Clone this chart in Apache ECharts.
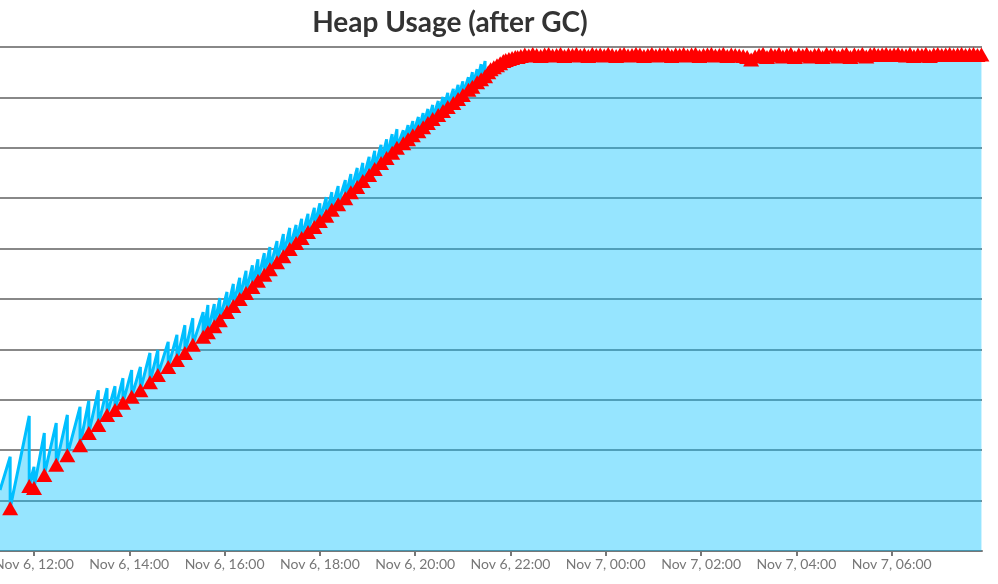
<!DOCTYPE html>
<html>
<head>
<meta charset="utf-8">
<title>Heap Usage (after GC)</title>
<script src="https://cdn.jsdelivr.net/npm/echarts@6/dist/echarts.min.js"></script>
<style>
  html, body { margin: 0; padding: 0; background: #fff; }
  #chart { width: 998px; height: 584px; }
</style>
</head>
<body>
<div id="chart"></div>
<script>
// time in minutes after Nov 6, 11:00 ; heap in MB
const axisStartMinute = 17.2
const axisEndMinute = 1253.7
const tickMinutes = [60, 180, 300, 420, 540, 660, 780, 900, 1020, 1140]

// first sample at the left edge
const firstSample = [17.2, 121]

// one entry per GC run
const gcMinute = [
  30, 54, 60, 73, 88, 102, 118, 129, 141, 152, 162, 172, 183, 194, 206, 216, 229, 240, 250, 260, 273, 279,
  287, 294, 303, 311, 319, 327, 335, 342, 350, 357, 366, 374, 382,
  390, 397, 405, 413, 420, 428, 435, 443, 452, 459, 467, 474, 482, 489, 497, 504, 511, 517,
  525, 531, 537, 544, 550, 556, 562, 569, 575, 581, 588, 594, 600, 607, 612, 618, 623, 628,
  632, 635, 639, 643, 647, 651, 654, 658, 662, 666, 669, 673,
  678, 683, 688, 693, 698, 703, 708, 713, 718, 723, 728, 733, 738, 743, 748, 753, 758, 763, 768, 773,
  778, 783, 788, 793, 798, 803, 808, 813, 818, 823, 828, 833, 838, 843, 848, 853, 858, 863, 868, 873,
  878, 883, 888, 893, 898, 903, 908, 913, 918, 923, 928, 933, 938, 943, 948,
  953, 958, 963, 968,
  973, 978, 983, 988, 993, 998, 1003, 1008, 1013, 1018, 1023, 1028, 1033, 1038, 1043, 1048, 1053, 1058,
  1063, 1068, 1073, 1078, 1083, 1088, 1093, 1098, 1103, 1108,
  1113, 1118, 1123, 1128, 1133, 1138, 1143, 1148, 1153,
  1158, 1163, 1168, 1173, 1178, 1183, 1188, 1193,
  1198, 1203, 1208, 1213, 1218, 1223, 1228, 1233, 1238, 1243, 1248, 1253
]

// heap right after each GC (red triangles)
const heapAfterGc = [
  85, 129, 125, 151, 171, 190, 210, 234, 250, 270, 280, 294, 306, 319, 335, 349, 365, 379, 393, 409, 425, 434,
  446, 458, 474, 486, 500, 512, 524, 536, 548, 559, 573, 585, 599,
  611, 621, 633, 643, 655, 665, 677, 688, 700, 712, 722, 734, 746, 758, 770, 780, 790, 800,
  809, 817, 825, 833, 841, 849, 857, 865, 873, 881, 889, 897, 905, 915, 921, 930, 936, 942,
  950, 956, 960, 964, 968, 972, 974, 976, 978, 980, 980, 982,
  985, 983, 986, 984, 982, 985, 986, 983, 984, 986, 982, 985, 984, 986, 983, 985, 982, 986, 984, 985,
  983, 986, 984, 982, 985, 986, 983, 984, 986, 985, 982, 984, 986, 983, 985, 984, 986, 982, 985, 984,
  986, 983, 985, 986, 982, 984, 985, 986, 983, 984, 986, 982, 985, 984, 983,
  982, 980, 975, 981,
  984, 986, 980, 985, 983, 986, 981, 984, 986, 980, 985, 983, 986, 981, 984, 985, 980, 986,
  983, 985, 981, 984, 986, 980, 985, 983, 986, 981,
  985, 986, 984, 985, 986, 984, 985, 986, 984,
  983, 986, 982, 985, 984, 986, 982, 985,
  986, 984, 985, 986, 984, 985, 986, 984, 985, 986, 984, 985
]

// heap just before each GC while the heap was still growing (peaks of the saw)
const heapBeforeGc = [
  187, 268, 167, 234, 254, 270, 286, 298, 319, 323, 327, 343, 359, 365, 393, 399, 415, 429, 448, 462, 474, 488,
  490, 502, 514, 530, 542, 556, 567, 579, 591, 603, 615, 629, 641,
  647, 659, 669, 681, 690, 702, 712, 724, 736, 748, 760, 770, 782, 794, 806, 817, 827, 837,
  835, 845, 853, 861, 869, 877, 885, 893, 901, 909, 917, 925, 932, 940, 950, 956, 966, 972,
  954, 960, 963, 967, 970, 974, 976, 978, 980, 982, 982, 984
]

function fmtTick (m) {
  const hour = 11 + m / 60
  const day = hour >= 24 ? 7 : 6
  const h = Math.round(hour % 24)
  return 'Nov ' + day + ', ' + (h < 10 ? '0' + h : h) + ':00'
}

const heapLine = [firstSample]
const afterPoints = []
gcMinute.forEach(function (m, i) {
  if (heapBeforeGc[i] != null) heapLine.push([m, heapBeforeGc[i]])
  heapLine.push([m, heapAfterGc[i]])
  afterPoints.push([m, heapAfterGc[i]])
})

const chart = echarts.init(document.getElementById('chart'))
chart.setOption({
  backgroundColor: '#fff',
  animation: false,
  title: {
    text: 'Heap Usage (after GC)',
    left: 450,
    top: 9,
    textAlign: 'center',
    padding: 0,
    textStyle: {
      fontFamily: 'Lato',
      fontWeight: 'bold',
      fontSize: 28,
      color: '#333'
    }
  },
  grid: {
    left: 0,
    right: 16,
    top: 47,
    bottom: 33,
    containLabel: false,
    outerBoundsMode: 'none'
  },
  xAxis: {
    type: 'value',
    min: axisStartMinute,
    max: axisEndMinute,
    splitLine: { show: false },
    axisLine: { lineStyle: { color: '#777', width: 2 } },
    axisTick: {
      customValues: tickMinutes,
      length: 5,
      lineStyle: { color: '#777', width: 2 }
    },
    axisLabel: {
      customValues: tickMinutes,
      formatter: fmtTick,
      color: '#777',
      fontFamily: 'Lato',
      fontSize: 14,
      margin: 6
    }
  },
  yAxis: {
    type: 'value',
    min: 0,
    max: 1000,
    interval: 100,
    axisLine: { show: false },
    axisTick: { show: false },
    axisLabel: { show: false },
    splitLine: { lineStyle: { color: '#888', width: 2 } }
  },
  series: [
    {
      name: 'Heap',
      type: 'line',
      data: heapLine,
      showSymbol: false,
      z: 2,
      lineStyle: { color: '#00bfff', width: 3 },
      areaStyle: { color: '#00bfff', opacity: 0.41, origin: 'start' }
    },
    {
      name: 'After GC',
      type: 'scatter',
      data: afterPoints,
      symbol: 'triangle',
      symbolSize: [16, 14],
      z: 3,
      itemStyle: { color: '#ff0000', opacity: 1 }
    }
  ]
})
</script>
</body>
</html>
